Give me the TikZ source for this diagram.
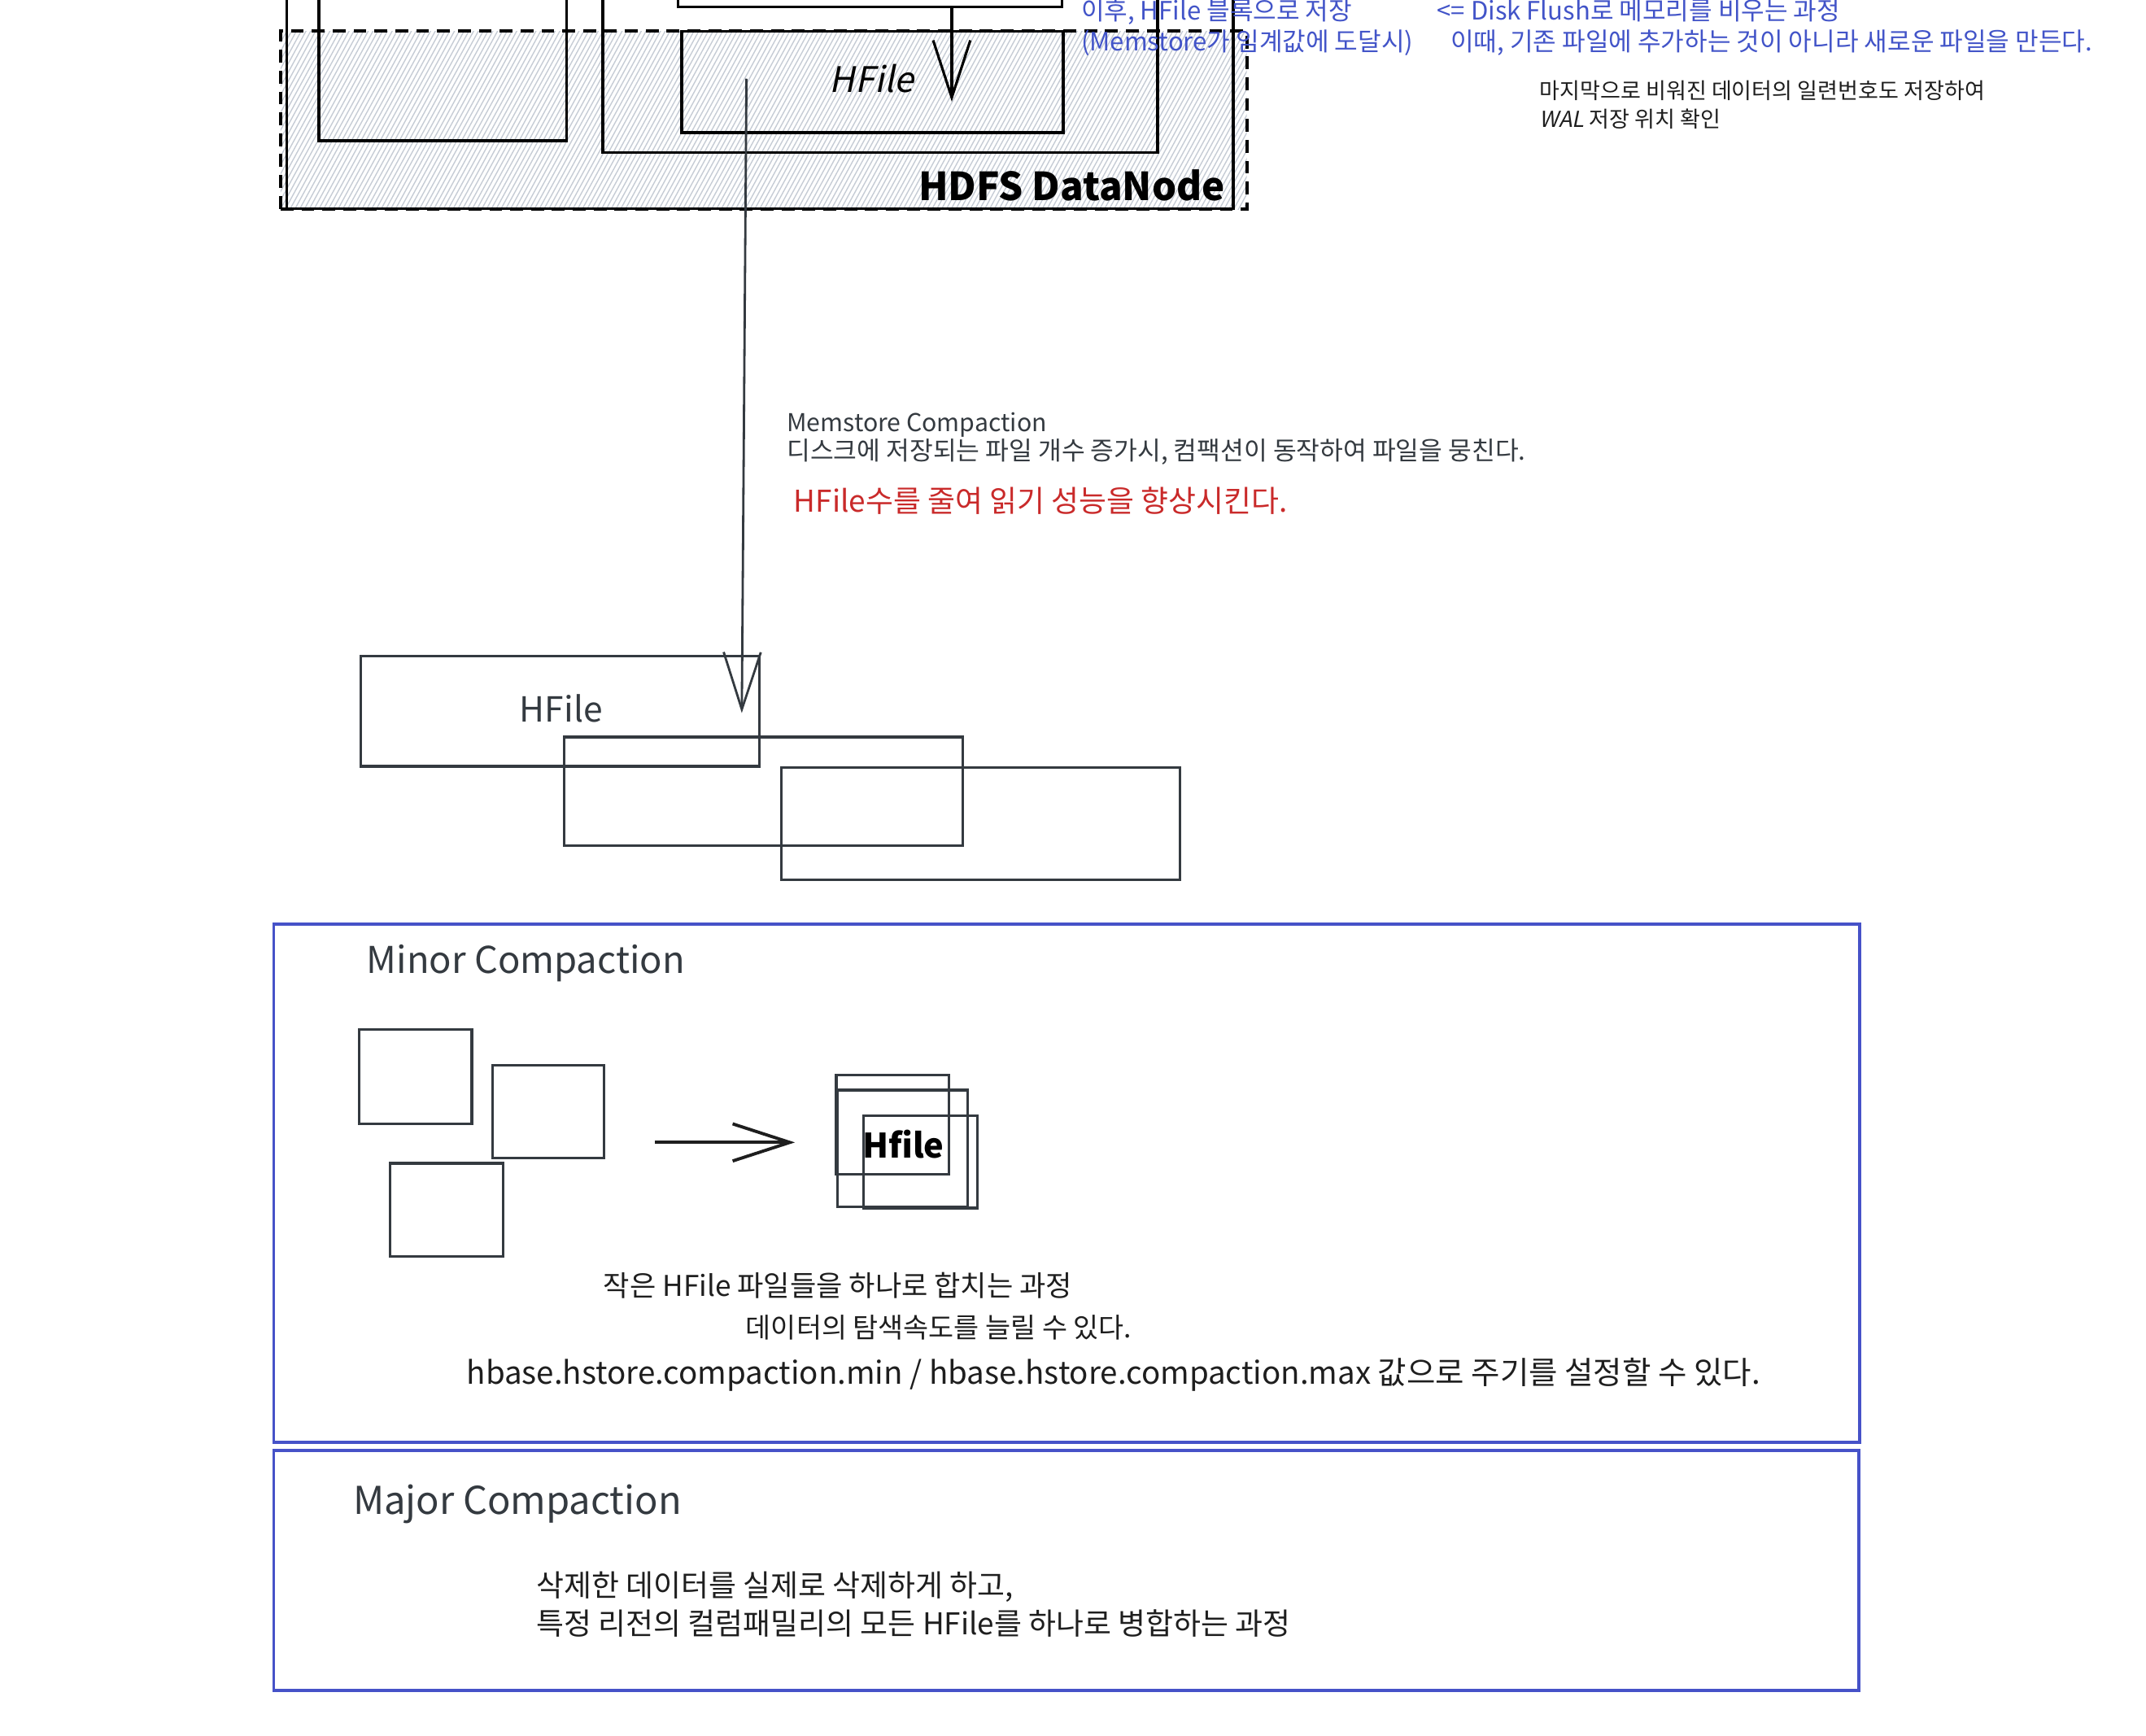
\documentclass[tikz,border=0pt]{standalone}
\usepackage{fontspec}
\setmainfont{Noto Sans CJK KR}
\newfontfamily\slantfont[FakeSlant=0.2]{Noto Sans CJK KR}
\usetikzlibrary{arrows.meta,fit}
\definecolor{inkblue}{RGB}{66,84,200}
\definecolor{panelblue}{RGB}{70,82,200}
\definecolor{ink}{HTML}{343A40}
\definecolor{inkred}{HTML}{C92A2A}
\definecolor{hatchc}{HTML}{C6CCD5}
\definecolor{blk}{HTML}{1E1E1E}
\newcommand{\fs}[1]{\fontsize{#1}{#1}\selectfont}
\begin{document}
\begin{tikzpicture}[x=0.4786pt,y=-0.4786pt,
  shapebox/.style={rectangle, inner sep=0pt, outer sep=0pt},
  topbox/.style={shapebox, draw=black, line width=1.05pt},
  greybox/.style={shapebox, draw=ink, line width=0.95pt},
  panelbox/.style={shapebox, draw=panelblue, line width=1.1pt},
  dnbox/.style={shapebox, draw=black, line width=1.1pt, dash pattern=on 4.5pt off 2.8pt},
  txt/.style={inner sep=0pt, outer sep=0pt, anchor=west, text height=0.8em, text depth=0.2em},
  ctxt/.style={inner sep=0pt, outer sep=0pt, text height=0.8em, text depth=0.2em},
  arr/.style={-{Straight Barb[length=20pt,width=13pt]}},
  hatchline/.style={draw=hatchc, line width=0.4pt}]
\useasboundingbox (0,0) rectangle (1568,1268);
\clip (0,0) rectangle (1568,1268);

% ---------- top: HDFS DataNode area ----------
\begin{scope}
  \clip (205,22.8) rectangle (911,153);
  \foreach \x in {110,113.5,...,915} { \draw[hatchline] (\x,160) -- ++(82,-150); }
\end{scope}
\node[topbox, fit={(209.5,-100) (901,152.5)}] (regionsrv) {};
\node[dnbox, fit={(205,22.8) (911,153)}] (datanode) {};
\node[topbox, fit={(233,-100) (414,103)}] (boxa) {};
\node[topbox, fit={(440.5,-100) (846,111.5)}] (boxb) {};
\node[topbox, fit={(495.5,-100) (776,5)}] (memstore) {};
\node[topbox, fit={(498,22.8) (777,96.7)}] (hftop) {};
\node[ctxt, font=\slantfont\fs{12.3}] (hftoplbl) at (637,61) {HFile};
\node[inner sep=0pt, outer sep=0pt, anchor=east, font=\bfseries\fs{13.5}, text height=0.8em, text depth=0.2em] (dnlbl) at (895,140) {HDFS DataNode};

\coordinate (a1tip) at (695.4,74.3);
\draw[arr, black, line width=0.9pt] (memstore.south -| a1tip) -- (a1tip);

% ---------- top right notes ----------
\node[txt, text=inkblue, font=\fs{8.85}] (n1) at (790,8.5) {이후, HFile 블록으로 저장};
\node[txt, text=inkblue, font=\fs{8.85}] (n2) at (790,31) {(Memstore가 임계값에 도달시)};
\node[txt, text=inkblue, font=\fs{8.85}] (n3) at (1050,8.5) {<= Disk Flush로 메모리를 비우는 과정};
\node[txt, text=inkblue, font=\fs{8.85}] (n4) at (1060,31) {이때, 기존 파일에 추가하는 것이 아니라 새로운 파일을 만든다.};
\node[txt, text=blk, font=\fs{7.7}] (n5) at (1125,66) {마지막으로 비워진 데이터의 일련번호도 저장하여};
\node[txt, text=blk, font=\fs{7.7}] (n6) at (1125,87) {{\slantfont WAL} 저장 위치 확인};

% ---------- memstore compaction ----------
\coordinate (a2start) at (545.4,57.5);
\coordinate (a2tip) at (542,521);
\draw[arr, ink, line width=0.8pt] (a2start) -- (a2tip);
\node[txt, text=ink, font=\fs{8.6}] (mc1) at (575,309) {Memstore Compaction};
\node[txt, text=ink, font=\fs{8.9}] (mc2) at (575,330) {디스크에 저장되는 파일 개수 증가시, 컴팩션이 동작하여 파일을 뭉친다.};
\node[txt, text=inkred, font=\fs{10.5}] (mc3) at (580,368) {HFile수를 줄여 읽기 성능을 향상시킨다.};

\node[greybox, fit={(263.7,479.5) (555,560)}] (hf1) {};
\node[greybox, fit={(412.3,538.5) (703.5,618)}] (hf2) {};
\node[greybox, fit={(571,560.6) (862,643)}] (hf3) {};
\node[ctxt, text=ink, font=\fs{12.1}] (hf1lbl) at (410,521) {HFile};

% ---------- minor compaction ----------
\node[panelbox, fit={(200,675) (1359,1054)}] (minor) {};
\node[txt, text=ink, font=\fs{12.9}] (minorlbl) at (268,705) {Minor Compaction};
\node[greybox, fit={(262.5,752.3) (344.7,821.3)}] (m1) {};
\node[greybox, fit={(359.9,778.2) (441.4,846)}] (m2) {};
\node[greybox, fit={(285.2,850) (367.5,918)}] (m3) {};
\coordinate (a3s) at (478.5,834.7);
\coordinate (a3t) at (580.8,834.7);
\draw[arr, blk, line width=1.1pt] (a3s) -- (a3t);
\node[greybox, fit={(611,785.6) (693.5,857.8)}] (r1) {};
\node[greybox, fit={(612,796.5) (707,881.6)}] (r2) {};
\node[greybox, fit={(631,815) (714,882.7)}] (r3) {};
\node[ctxt, text=black, font=\bfseries\fs{11.8}] (rlbl) at (660,840) {Hfile};
\node[txt, text=blk, font=\fs{10}] (mi1) at (441,941) {작은 HFile 파일들을 하나로 합치는 과정};
\node[txt, text=blk, font=\fs{9.6}] (mi2) at (545,971) {데이터의 탐색속도를 늘릴 수 있다.};
\node[txt, text=blk, font=\fs{10.95}] (mi3) at (341,1005) {hbase.hstore.compaction.min / hbase.hstore.compaction.max 값으로 주기를 설정할 수 있다.};

% ---------- major compaction ----------
\node[panelbox, fit={(200,1060) (1358,1235)}] (major) {};
\node[txt, text=ink, font=\fs{13.4}] (majorlbl) at (258,1100) {Major Compaction};
\node[txt, text=blk, font=\fs{10.5}] (ma1) at (392,1160) {삭제한 데이터를 실제로 삭제하게 하고,};
\node[txt, text=blk, font=\fs{10.5}] (ma2) at (392,1188) {특정 리전의 컬럼패밀리의 모든 HFile를 하나로 병합하는 과정};
\end{tikzpicture}
\end{document}
